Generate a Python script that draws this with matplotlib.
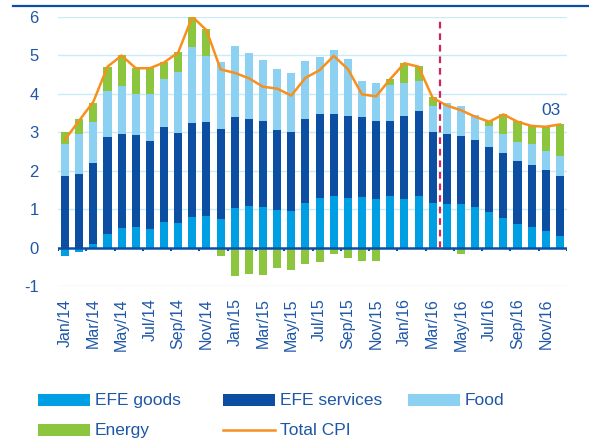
import matplotlib
matplotlib.use("Agg")
import matplotlib.pyplot as plt
import numpy as np
from matplotlib.lines import Line2D
from matplotlib.patches import Rectangle

plt.rcParams['font.family'] = ['Liberation Sans', 'DejaVu Sans']

months = [f"{m}/{y}" for y in ("14", "15", "16")
          for m in ("Jan", "Feb", "Mar", "Apr", "May", "Jun",
                    "Jul", "Aug", "Sep", "Oct", "Nov", "Dec")]

efe_goods = [-0.22, -0.11, 0.09, 0.36, 0.51, 0.53, 0.48, 0.67, 0.64, 0.80, 0.82, 0.74,
             1.02, 1.08, 1.05, 0.98, 0.96, 1.16, 1.29, 1.33, 1.29, 1.32, 1.27, 1.34,
             1.27, 1.33, 1.16, 1.14, 1.13, 1.05, 0.92, 0.78, 0.61, 0.54, 0.42, 0.29]
efe_services = [1.86, 1.92, 2.10, 2.51, 2.43, 2.40, 2.30, 2.45, 2.34, 2.44, 2.44, 2.33,
                2.37, 2.25, 2.25, 2.07, 2.04, 2.18, 2.17, 2.14, 2.14, 2.07, 2.01, 1.96,
                2.16, 2.22, 1.84, 1.80, 1.77, 1.74, 1.70, 1.68, 1.64, 1.61, 1.59, 1.58]
food = [0.83, 1.03, 1.06, 1.21, 1.25, 1.07, 1.21, 1.26, 1.59, 1.96, 1.73, 1.76,
        1.86, 1.72, 1.57, 1.58, 1.54, 1.50, 1.50, 1.66, 1.46, 0.95, 0.99, 0.92,
        0.85, 0.79, 0.69, 0.81, 0.79, 0.65, 0.55, 0.48, 0.50, 0.55, 0.51, 0.52]
energy = [0.32, 0.39, 0.51, 0.62, 0.81, 0.67, 0.68, 0.44, 0.52, 0.80, 0.69, -0.21,
          -0.75, -0.69, -0.72, -0.52, -0.59, -0.43, -0.37, -0.17, -0.27, -0.36, -0.36, 0.16,
          0.52, 0.39, 0.23, -0.07, -0.17, -0.07, 0.13, 0.54, 0.55, 0.46, 0.61, 0.81]
total_cpi = [2.81, 3.30, 3.79, 4.70, 4.99, 4.66, 4.66, 4.81, 5.07, 6.00, 5.65, 4.63,
             4.54, 4.40, 4.18, 4.13, 3.95, 4.41, 4.61, 4.98, 4.64, 3.98, 3.93, 4.38,
             4.79, 4.70, 3.89, 3.69, 3.57, 3.40, 3.27, 3.46, 3.27, 3.16, 3.14, 3.20]

series_names = ["EFE goods", "EFE services", "Food", "Energy"]
series_vals = [efe_goods, efe_services, food, energy]
colors = ["#009FE3", "#0B4EA2", "#8CD1F2", "#8CC63F"]
cpi_color = "#F7901E"
text_color = "#1F57A8"
dark_blue = "#0B4EA2"

fig = plt.figure(figsize=(5.89, 4.44), dpi=100)
W, H = 589, 444
ax = fig.add_axes([58 / W, 1 - 286 / H, 509 / W, 269.3 / H])

x = np.arange(len(months))
pos_base = np.zeros(len(months))
neg_base = np.zeros(len(months))
bw = 0.57
for vals, c in zip(series_vals, colors):
    v = np.array(vals)
    bottoms = np.where(v >= 0, pos_base, neg_base)
    ax.bar(x, v, bottom=bottoms, width=bw, color=c, linewidth=0, zorder=3)
    pos_base = pos_base + np.where(v >= 0, v, 0)
    neg_base = neg_base + np.where(v < 0, v, 0)

ax.plot(x, total_cpi, color=cpi_color, lw=1.8, zorder=5)

ax.set_xlim(-0.5, len(months) - 0.5)
ax.set_ylim(-1, 6)

# grid lines
for g in [-1, 1, 2, 3, 4, 5, 6]:
    ax.axhline(g, color="#C9EAF7", lw=1.0, zorder=1)

# zero axis with ticks
ax.axhline(0, color=dark_blue, lw=1.8, zorder=4)
ax.vlines(np.arange(-0.5, len(months), 2), -0.1, 0, color=dark_blue, lw=1.5, zorder=4)

# vertical dashed line
ax.vlines(26.5, 0, 5.96, color="#D0245F", lw=1.6, linestyle=(0, (3, 2.2)), zorder=6)

ax.text(34.4, 3.57, "03", color=text_color, fontsize=12.5, ha="center", va="center")

for s in ax.spines.values():
    s.set_visible(False)
ax.set_yticks(range(-1, 7))
ax.set_yticklabels([str(v) for v in range(-1, 7)])
ax.set_xticks(x[::2])
ax.set_xticklabels(months[::2], rotation=90)
ax.tick_params(axis="y", length=0, pad=14, labelsize=12, labelcolor=text_color)
ax.tick_params(axis="x", length=0, pad=9, labelsize=11.5, labelcolor=text_color)
ax.set_facecolor("none")

# top rule
fig.add_artist(Line2D([13 / W, 1.0], [1 - 6 / H, 1 - 6 / H], color=dark_blue, lw=1.6))

# manual legend
legend_items = [
    ("EFE goods", colors[0], "patch", 38, 400),
    ("EFE services", colors[1], "patch", 223, 400),
    ("Food", colors[2], "patch", 408, 400),
    ("Energy", colors[3], "patch", 38, 430),
    ("Total CPI", cpi_color, "line", 223, 430),
]
for label, c, kind, px, py in legend_items:
    if kind == "patch":
        fig.add_artist(Rectangle((px / W, 1 - (py + 6) / H), 52 / W, 12 / H,
                                 facecolor=c, edgecolor="none", transform=fig.transFigure))
    else:
        fig.add_artist(Line2D([px / W, (px + 52) / W], [1 - py / H, 1 - py / H],
                              color=c, lw=1.8))
    fig.text((px + 57) / W, 1 - py / H, label, color=text_color, fontsize=12.5,
             ha="left", va="center")

fig.savefig("out.png", dpi=100)
